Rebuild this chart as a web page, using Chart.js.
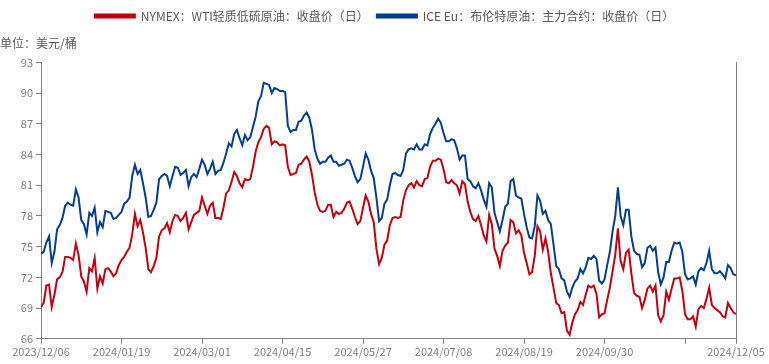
<!DOCTYPE html>
<html>
<head>
<meta charset="utf-8">
<script src="https://cdn.jsdelivr.net/npm/chart.js@4.4.1/dist/chart.umd.min.js"></script>
<style>
  html, body { margin: 0; padding: 0; background: #fff; }
  #wrap { width: 769px; height: 364px; }
</style>
</head>
<body>
<div id="wrap"><canvas id="oil-chart"></canvas></div>
<script>
// daily closes, 2023/12/06 .. 2024/12/05
const brentClose = [
  74.3, 74.5, 75.4, 76.0, 73.4, 74.5, 76.7, 77.1, 77.8, 79.0,
  79.3, 79.1, 79.0, 80.6, 79.8, 77.6, 77.2, 76.2, 78.3, 78.0,
  78.8, 76.4, 77.4, 76.9, 78.5, 78.4, 78.3, 77.7, 77.8, 78.1,
  78.4, 79.2, 79.4, 79.8, 81.9, 83.0, 82.1, 82.5, 81.2, 79.8,
  77.9, 78.0, 78.6, 79.3, 81.6, 81.9, 82.1, 81.9, 80.9, 81.9,
  82.8, 82.7, 82.0, 82.2, 82.5, 80.9, 81.8, 82.1, 81.8, 82.6,
  83.5, 83.0, 82.1, 82.6, 83.3, 82.1, 82.4, 82.5, 83.2, 84.1,
  85.1, 84.8, 86.0, 86.4, 85.6, 84.9, 85.9, 85.4, 85.7, 86.7,
  87.7, 89.2, 89.7, 91.0, 90.9, 90.8, 90.0, 90.5, 90.4, 90.2,
  90.2, 90.1, 86.8, 86.2, 86.4, 86.4, 87.2, 87.3, 87.8, 88.1,
  87.6, 86.4, 84.5, 83.6, 83.1, 83.3, 83.3, 83.7, 83.9, 83.3,
  83.3, 82.9, 83.0, 83.1, 83.5, 83.4, 82.7, 81.9, 81.3, 81.6,
  82.8, 84.1, 83.5, 82.4, 81.7, 79.8, 77.5, 77.8, 79.2, 79.6,
  81.0, 82.1, 82.2, 82.0, 81.9, 82.5, 84.1, 84.5, 84.6, 84.5,
  85.0, 84.5, 84.5, 85.0, 84.9, 86.0, 86.6, 87.0, 87.5, 87.1,
  86.1, 85.3, 85.3, 85.5, 85.4, 84.6, 83.5, 83.9, 83.9, 81.6,
  81.4, 80.9, 80.7, 81.2, 80.5, 79.6, 78.9, 81.2, 80.8, 78.3,
  77.4, 76.5, 77.6, 78.9, 79.2, 81.4, 81.6, 80.0, 79.8, 79.7,
  78.2, 76.9, 75.9, 75.8, 77.0, 80.0, 79.5, 78.2, 78.5, 77.6,
  77.2, 75.2, 73.1, 72.8, 71.9, 71.7, 70.6, 70.1, 71.0, 71.6,
  71.9, 72.8, 72.4, 73.0, 73.9, 73.8, 74.1, 73.8, 71.7, 71.4,
  71.8, 73.2, 74.5, 76.5, 78.0, 80.8, 78.0, 77.1, 78.6, 78.6,
  76.0, 74.6, 74.3, 74.2, 73.0, 73.4, 74.9, 75.1, 74.6, 74.9,
  72.5, 71.3, 72.0, 73.5, 73.5, 74.6, 75.4, 75.3, 75.4, 74.5,
  72.3, 71.8, 71.9, 72.1, 71.3, 72.6, 72.9, 72.7, 73.4, 74.6,
  72.8, 72.4, 72.4, 72.6, 72.3, 71.9, 73.2, 72.9, 72.3, 72.2
];

const wtiClose = [
  69.1, 69.5, 71.2, 71.3, 69.1, 70.3, 71.8, 72.0, 72.5, 74.0,
  74.0, 73.9, 73.7, 75.3, 74.2, 72.1, 71.6, 70.6, 72.9, 72.6,
  73.9, 70.9, 72.1, 71.4, 72.8, 72.9, 72.6, 72.1, 72.4, 73.2,
  73.7, 74.0, 74.5, 74.9, 76.2, 78.2, 77.0, 77.6, 76.4, 74.9,
  72.8, 72.5, 73.1, 73.9, 76.0, 76.6, 76.8, 77.3, 76.4, 77.5,
  78.1, 78.0, 77.5, 77.8, 78.3, 76.7, 77.4, 78.1, 78.3, 78.5,
  79.8, 79.0, 78.2, 79.0, 79.3, 77.8, 77.8, 77.7, 78.8, 80.2,
  80.5, 81.3, 82.3, 81.9, 81.2, 80.8, 81.6, 81.5, 81.6, 82.8,
  84.3, 85.2, 85.7, 86.5, 86.8, 86.6, 85.0, 85.3, 85.2, 84.9,
  85.0, 84.9, 82.8, 82.0, 82.1, 82.2, 83.0, 83.1, 83.5, 83.8,
  83.3, 82.0, 80.3, 79.1, 78.5, 78.4, 78.5, 79.1, 79.1, 77.9,
  78.4, 78.2, 78.3, 78.7, 79.3, 79.4, 78.7, 77.9, 77.2, 77.5,
  78.8, 80.0, 79.4, 78.2, 77.4, 74.8, 73.3, 73.9, 75.2, 75.6,
  77.1, 77.8, 77.9, 77.8, 77.9, 79.5, 80.5, 81.0, 81.2, 80.8,
  81.4, 81.0, 80.9, 81.6, 81.7, 82.8, 83.4, 83.4, 83.6, 83.5,
  82.6, 81.3, 81.2, 81.5, 81.2, 81.0, 80.2, 81.4, 81.1, 79.4,
  78.4, 77.7, 77.5, 78.0, 77.1, 76.1, 75.5, 78.1, 77.2, 74.8,
  74.1, 73.1, 74.6, 75.1, 75.4, 77.6, 77.4, 76.3, 76.6, 76.1,
  74.4, 73.4, 72.3, 72.5, 74.1, 77.0, 76.5, 74.7, 75.8, 74.5,
  72.4, 71.0, 69.5, 69.3, 68.5, 68.6, 66.8, 66.4, 67.6, 68.4,
  68.8, 69.6, 69.3, 70.3, 71.2, 71.0, 71.2, 70.4, 68.1, 68.4,
  68.5, 69.8, 71.0, 72.6, 74.2, 76.8, 73.6, 72.8, 74.4, 74.7,
  72.4, 70.5, 70.2, 70.1, 69.0, 69.8, 70.9, 71.2, 70.6, 71.2,
  68.3, 67.7, 68.3, 70.6, 69.8, 70.9, 71.9, 71.9, 72.0, 70.7,
  68.4, 67.9, 67.9, 68.2, 67.2, 68.9, 69.2, 69.0, 69.9, 71.0,
  69.3, 69.0, 68.8, 68.6, 68.2, 68.1, 69.5, 69.0, 68.6, 68.4
];

// x axis: trading-day index, labelled every 30 days (the 11/11 tick has no label)
const tickDays = [0, 30, 60, 90, 120, 150, 180, 210, 240, 259];
const tickLabels = ['2023/12/06', '2024/01/19', '2024/03/01', '2024/04/15', '2024/05/27',
                    '2024/07/08', '2024/08/19', '2024/09/30', '', '2024/12/05'];
const yTicks = [66, 69, 72, 75, 78, 81, 84, 87, 90, 93];

const seriesNames = ['NYMEX：WTI轻质低硫原油：收盘价（日）', 'ICE Eu：布伦特原油：主力合约：收盘价（日）'];
const seriesColors = ['#c00010', '#063d8e'];

const days = brentClose.map((_, i) => i);
const axisGray = '#808080';
const textGray = '#595959';
const font = { family: '"Noto Sans CJK SC", "Liberation Sans", sans-serif', size: 11 };
const legendFont = { family: '"Noto Sans CJK SC", "Liberation Sans", sans-serif', size: 12 };

const ctx = document.getElementById('oil-chart').getContext('2d');

const oilChart = new Chart(ctx, {
    type: 'line',
    data: {
        labels: days,
        datasets: [
            {
                label: seriesNames[0],
                data: wtiClose,
                borderColor: seriesColors[0],
                backgroundColor: seriesColors[0],
                borderWidth: 2,
                pointRadius: 0,
                tension: 0
            },
            {
                label: seriesNames[1],
                data: brentClose,
                borderColor: seriesColors[1],
                backgroundColor: seriesColors[1],
                borderWidth: 2,
                pointRadius: 0,
                tension: 0
            }
        ]
    },
    options: {
        responsive: true,
        maintainAspectRatio: false,
        animation: false,
        layout: { padding: { left: 0, right: 0, top: 2, bottom: 5 } },
        plugins: {
            legend: {
                display: true,
                position: 'top',
                weight: 3000,
                labels: {
                    boxWidth: 40,
                    boxHeight: 3,
                    padding: 8,
                    color: textGray,
                    font: legendFont
                }
            },
            title: {
                display: true,
                text: '单位：美元/桶',
                align: 'start',
                weight: 500,
                color: textGray,
                font: { ...legendFont, weight: 'normal' },
                padding: { top: 4, bottom: 12 }
            },
            tooltip: { enabled: false }
        },
        scales: {
            x: {
                type: 'linear',
                min: 0,
                max: days.length - 1,
                afterBuildTicks: (scale) => {
                    scale.ticks = tickDays.map(v => ({ value: v }));
                },
                ticks: {
                    autoSkip: false,
                    maxRotation: 0,
                    color: '#7f7f7f',
                    font: font,
                    padding: 1,
                    callback: (value) => tickLabels[tickDays.indexOf(value)]
                },
                grid: { drawOnChartArea: false, drawTicks: true, tickLength: 5, color: axisGray },
                border: { color: axisGray }
            },
            y: {
                min: 66,
                max: 93,
                afterBuildTicks: (scale) => {
                    scale.ticks = yTicks.map(v => ({ value: v }));
                },
                afterFit: (scale) => { scale.width = 41; },
                ticks: { color: '#7f7f7f', font: font, padding: 3 },
                grid: { drawOnChartArea: false, drawTicks: true, tickLength: 5, color: axisGray },
                border: { color: axisGray }
            },
            y2: {
                position: 'right',
                min: 66,
                max: 93,
                afterFit: (scale) => { scale.width = 33; },
                ticks: { display: false },
                grid: { display: false },
                border: { color: axisGray }
            }
        }
    }
});
</script>
</body>
</html>
